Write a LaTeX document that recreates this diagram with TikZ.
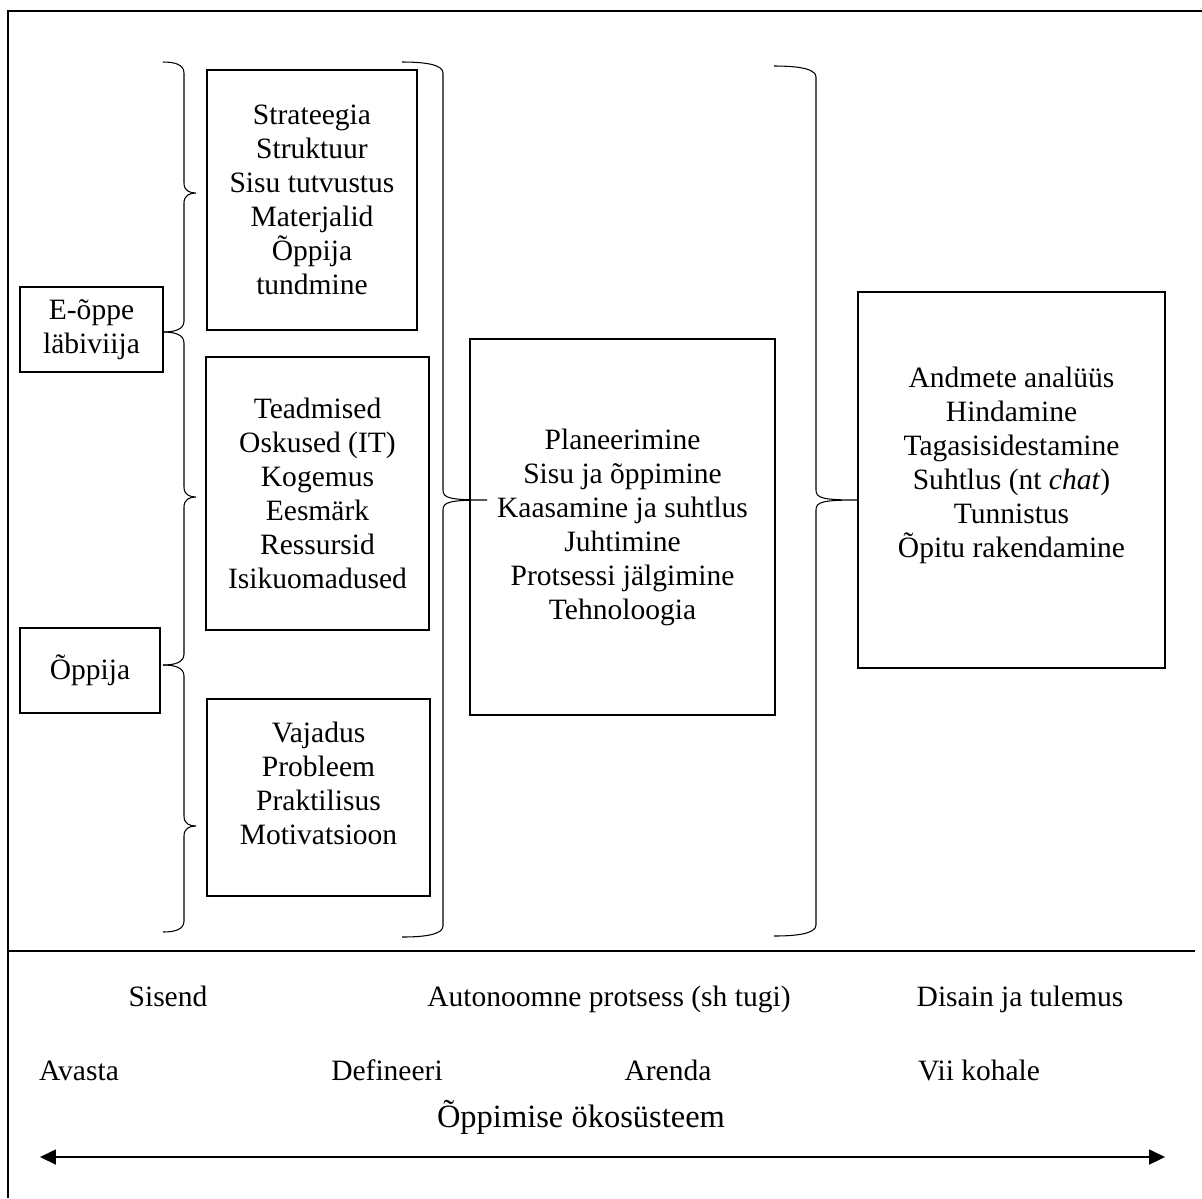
\documentclass[tikz,border=0pt]{standalone}
\usepackage{fontspec}
\setmainfont{Liberation Serif}
\usetikzlibrary{positioning}
\usetikzlibrary{arrows.meta}

\tikzset{
  box/.style={draw, line width=1.3pt, align=center, inner sep=0pt,
    font=\fontsize{16.8}{19.35}\selectfont},
  txt/.style={align=center, font=\fontsize{16.8}{19.35}\selectfont},
  phase/.style={anchor=base, inner sep=0pt, font=\fontsize{16.8}{19.35}\selectfont},
  brace/.style={line width=0.6pt},
}

% x, top, tip, bottom, hook, reach
\newcommand{\sidebrace}[6]{%
  \draw[brace] ({#1-#5},#2) .. controls ({#1-#5/2},#2) and (#1,{#2+2}) .. (#1,{#2+11})
    -- (#1,{#3-10}) .. controls (#1,{#3-2}) and ({#1+6},#3) .. ({#1+#6},#3)
    .. controls ({#1+6},#3) and (#1,{#3+2}) .. (#1,{#3+10})
    -- (#1,{#4-11}) .. controls (#1,{#4-2}) and ({#1-#5/2},#4) .. ({#1-#5},#4);}

\begin{document}
\begin{tikzpicture}[x=0.02cm,y=-0.02cm]
    \useasboundingbox (0,0) rectangle (1202,1198);
    % frame
    \draw[line width=1.3pt] (8,1198) -- (8,11) -- (1202,11);
    \draw[line width=1.3pt] (8,951) -- (1195,951);

    % actors
    \node[box, minimum width=2.86cm, minimum height=1.7cm] (lead) at (91.5,329.5) {E-õppe\\läbiviija};
    \node[box, minimum width=2.8cm, minimum height=1.7cm] (learner) at (90,670.5) {Õppija};

    % input boxes
    \node[box, minimum width=4.2cm, minimum height=5.2cm] (prep) at (312,200)
        {Strateegia\\Struktuur\\Sisu tutvustus\\Materjalid\\Õppija\\tundmine};
    \node[box, minimum width=4.46cm, minimum height=5.46cm] (skills) at (317.5,493.5)
        {Teadmised\\Oskused (IT)\\Kogemus\\Eesmärk\\Ressursid\\Isikuomadused};
    \node[box, minimum width=4.46cm, minimum height=3.94cm] (need) at (318.5,797.5) {};
    \node[txt] (needtxt) at (318.5,783) {Vajadus\\Probleem\\Praktilisus\\Motivatsioon};

    % process and result
    \node[box, minimum width=6.1cm, minimum height=7.52cm] (process) at (622.5,527)
        {Planeerimine\\Sisu ja õppimine\\Kaasamine ja suhtlus\\Juhtimine\\Protsessi jälgimine\\Tehnoloogia};
    \node[box, minimum width=6.14cm, minimum height=7.52cm] (result) at (1011.5,480) {};
    \node[txt] (resulttxt) at (1011.5,465)
        {Andmete analüüs\\Hindamine\\Tagasisidestamine\\Suhtlus (nt \textit{chat})\\Tunnistus\\Õpitu rakendamine};

    % braces
    \sidebrace{184}{62}{193}{332}{21}{12}
    \sidebrace{184}{332}{497}{665}{21}{12}
    \sidebrace{184}{665}{826}{932}{21}{12}
    \sidebrace{443}{62}{500}{937}{41}{44}
    \sidebrace{816}{66}{500}{936}{42}{42}

    % phases
    \node[phase] (input) at (168,1006) {Sisend};
    \node[phase] (autonomous) at (609,1006) {Autonoomne protsess (sh tugi)};
    \node[phase] (design) at (1020,1006) {Disain ja tulemus};
    \node[phase] (discover) at (79,1080) {Avasta};
    \node[phase] (define) at (387,1080) {Defineeri};
    \node[phase] (develop) at (668,1080) {Arenda};
    \node[phase] (deliver) at (979,1080) {Vii kohale};

    \node[phase, font=\fontsize{18.5}{22}\selectfont] (eco) at (581,1127) {Õppimise ökosüsteem};
    \coordinate (arrL) at (40,1157);
    \coordinate (arrR) at (1165,1157);
    \draw[{Triangle[length=9pt,width=8.5pt]}-{Triangle[length=9pt,width=8.5pt]}, line width=0.8pt] (arrL) -- (arrR);
\end{tikzpicture}
\end{document}
